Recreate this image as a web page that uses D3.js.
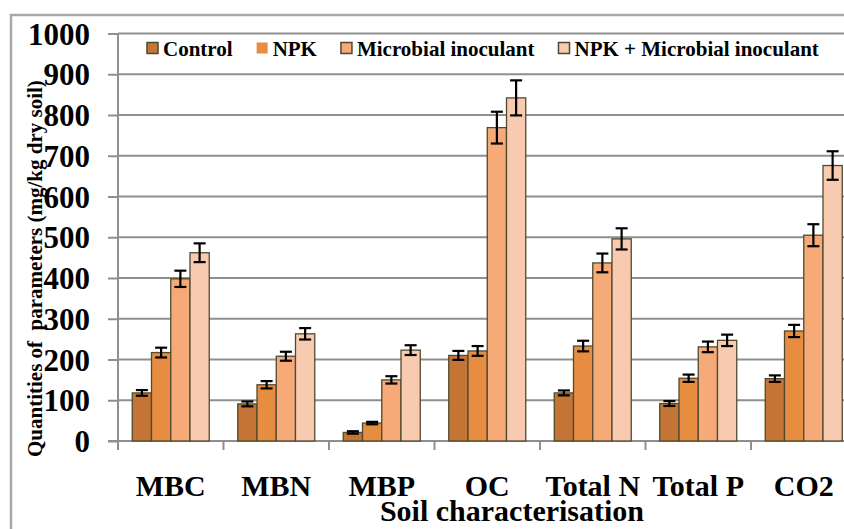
<!DOCTYPE html>
<html><head><meta charset="utf-8">
<script src="https://cdn.jsdelivr.net/npm/d3@7"></script>
<style>body{margin:0;background:#fff}svg{display:block}</style>
</head><body>
<svg id="chart" width="844" height="529"></svg>
<script>
const categories = ["MBC","MBN","MBP","OC","Total N","Total P","CO2"];
const seriesNames = ["Control","NPK","Microbial inoculant","NPK + Microbial inoculant"];
const control     = [118, 91, 21, 210, 118, 92, 153];
const npk         = [217, 138, 44, 221, 233, 154, 270];
const microbial   = [398, 208, 150, 769, 437, 231, 505];
const npkMicro    = [462, 263, 223, 842, 496, 247, 676];
const errControl  = [7, 6, 3, 11, 6, 6, 8];
const errNpk      = [12, 9, 3, 12, 13, 9, 15];
const errMicro    = [20, 11, 9, 39, 23, 13, 27];
const errNpkMicro = [23, 14, 12, 43, 26, 14, 35];
const yTicks = [0,100,200,300,400,500,600,700,800,900,1000];
const colors = ["#C47535","#E78D41","#F6AA78","#F8CBB1"];

const values = [control, npk, microbial, npkMicro];
const errs = [errControl, errNpk, errMicro, errNpkMicro];
const FONT = '"Liberation Serif", "Times New Roman", serif';

const svg = d3.select("#chart");
// outer frame
svg.append("rect").attr("x",11).attr("y",15).attr("width",900).attr("height",600)
  .attr("fill","none").attr("stroke","#a8a8a8").attr("stroke-width",2.5);

const plotLeft = 118, plotTop = 33.5, plotBottom = 441, catW = 105.5;
const x0 = d3.scaleBand().domain(categories).range([plotLeft, plotLeft + catW*categories.length]);
const x1 = d3.scaleBand().domain(seriesNames).range([14.25, catW-14.25]);
const y = d3.scaleLinear().domain([0,1000]).range([plotBottom, plotTop]);

// gridlines
svg.append("g").selectAll("line").data(yTicks.filter(d=>d>0)).join("line")
  .attr("x1",plotLeft).attr("x2",860).attr("y1",d=>y(d)).attr("y2",d=>y(d))
  .attr("stroke","#8f8f8f").attr("stroke-width",2);

// y axis
const yAxis = svg.append("g").attr("transform",`translate(${plotLeft},0)`)
  .call(d3.axisLeft(y).tickValues(yTicks).tickSize(10).tickPadding(18).tickFormat(d3.format("d")));
yAxis.attr("font-family",null);
yAxis.select(".domain").attr("stroke","#8f8f8f").attr("stroke-width",2).attr("d",`M0,${plotTop}V${plotBottom+8}`);
yAxis.selectAll(".tick line").attr("stroke","#8f8f8f").attr("stroke-width",2);
yAxis.selectAll(".tick text").attr("fill","#000").style("font-family",FONT).style("font-weight","bold")
  .style("font-size","31px").attr("dy","0.34em");

// x axis
const xAxis = svg.append("g").attr("transform",`translate(0,${plotBottom})`)
  .call(d3.axisBottom(x0).tickSize(0).tickPadding(0));
xAxis.attr("font-family",null);
xAxis.select(".domain").attr("stroke","#8f8f8f").attr("stroke-width",2).attr("d",`M${plotLeft-10},0H860`);
xAxis.selectAll(".tick text").attr("fill","#000").style("font-family",FONT).style("font-weight","bold")
  .style("font-size","30px").attr("y",55).attr("dy",0);
// category boundary ticks
svg.append("g").selectAll("line").data(categories).join("line")
  .attr("x1",d=>x0(d)).attr("x2",d=>x0(d)).attr("y1",plotBottom).attr("y2",plotBottom+9)
  .attr("stroke","#8f8f8f").attr("stroke-width",2);

// bars
const groups = svg.append("g").selectAll("g").data(categories).join("g")
  .attr("transform",d=>`translate(${x0(d)},0)`);
seriesNames.forEach((s,si)=>{
  groups.append("rect")
    .attr("x",x1(s)).attr("width",x1.bandwidth())
    .attr("y",(d,i)=>y(values[si][i])).attr("height",(d,i)=>plotBottom - y(values[si][i]))
    .attr("fill",colors[si]).attr("stroke","#4f4a30").attr("stroke-width",1.3);
});
// error bars
seriesNames.forEach((s,si)=>{
  const cx = x1(s) + x1.bandwidth()/2;
  const g = groups.append("g").attr("stroke","#000").attr("stroke-width",2.2);
  g.append("line").attr("x1",cx).attr("x2",cx)
    .attr("y1",(d,i)=>y(values[si][i]+errs[si][i])).attr("y2",(d,i)=>y(values[si][i]-errs[si][i]));
  g.append("line").attr("x1",cx-6).attr("x2",cx+6)
    .attr("y1",(d,i)=>y(values[si][i]+errs[si][i])).attr("y2",(d,i)=>y(values[si][i]+errs[si][i]));
  g.append("line").attr("x1",cx-6).attr("x2",cx+6)
    .attr("y1",(d,i)=>y(values[si][i]-errs[si][i])).attr("y2",(d,i)=>y(values[si][i]-errs[si][i]));
});

// y label
svg.append("text").attr("transform","translate(42,457) rotate(-90)")
  .attr("text-anchor","start").style("font-family",FONT).style("font-weight","bold")
  .style("font-size","21px").style("white-space","pre")
  .text("Quantities of  parameters (mg/kg dry soil)");

// x title
svg.append("text").attr("x",512).attr("y",521).attr("text-anchor","middle")
  .style("font-family",FONT).style("font-weight","bold")
  .style("font-size","30px").text("Soil characterisation");

// legend
const lg = svg.append("g");
let lx = 147;
seriesNames.forEach((s,si)=>{
  lg.append("rect").attr("x",lx).attr("y",42.5).attr("width",11).attr("height",11)
    .attr("fill",colors[si]).attr("stroke",si===1?"none":"#4f4a30").attr("stroke-width",1.5);
  const t = lg.append("text").attr("x",lx+16).attr("y",56)
    .style("font-family",FONT).style("font-weight","bold").style("font-size","21px").text(s);
  lx = lx + 16 + t.node().getComputedTextLength() + 24;
});
</script>
</body></html>
